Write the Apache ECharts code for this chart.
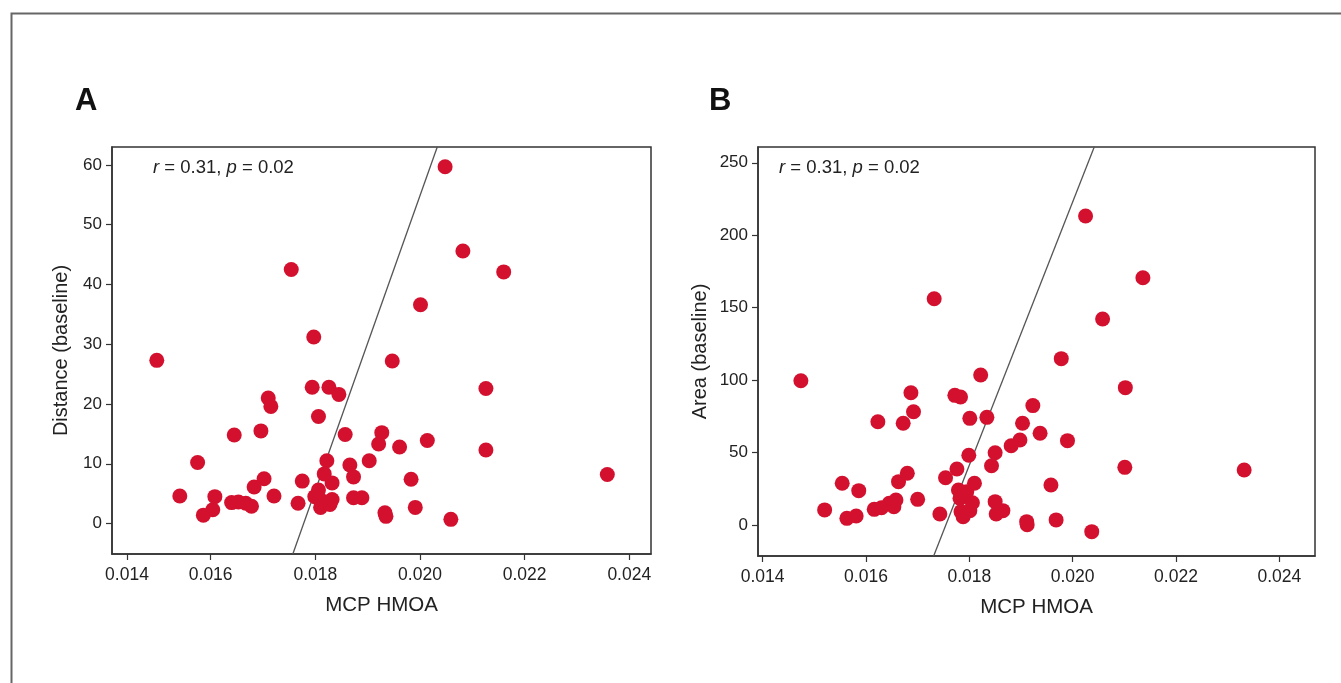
<!DOCTYPE html>
<html>
<head>
<meta charset="utf-8">
<script src="https://cdn.jsdelivr.net/npm/echarts@6/dist/echarts.min.js"></script>
<style>
  html, body { margin: 0; padding: 0; background: #fff; }
  #chart { width: 1341px; height: 683px; }
</style>
</head>
<body>
<div id="chart"></div>
<script>
  // panel A: MCP HMOA vs distance
  var hmoaA = [0.01497, 0.01754, 0.01797, 0.01947, 0.01794, 0.01826, 0.01845, 0.01710, 0.01715, 0.01806,
    0.01696, 0.01645, 0.01857, 0.01927, 0.01921, 0.01575, 0.01822, 0.01866, 0.01903, 0.01817,
    0.01873, 0.01832, 0.01775, 0.01702, 0.01683, 0.01541, 0.01608, 0.01604, 0.01586, 0.01640,
    0.01653, 0.01667, 0.01678, 0.01721, 0.01767, 0.01806, 0.01799, 0.01810, 0.01828, 0.01832,
    0.01873, 0.01889, 0.01933, 0.01935, 0.01811, 0.02048, 0.02082, 0.02160, 0.02001, 0.02126,
    0.01961, 0.02014, 0.02126, 0.02358, 0.01983, 0.01991, 0.02059];
  var distance = [27.3, 42.5, 31.2, 27.2, 22.8, 22.8, 21.6, 21.0, 19.6, 17.9,
    15.5, 14.8, 14.9, 15.2, 13.3, 10.2, 10.5, 9.8, 10.5, 8.3,
    7.8, 6.8, 7.1, 7.5, 6.1, 4.6, 4.5, 2.3, 1.4, 3.5,
    3.6, 3.4, 2.9, 4.6, 3.4, 5.6, 4.5, 2.7, 3.2, 4.0,
    4.3, 4.3, 1.8, 1.2, 3.9, 59.7, 45.6, 42.1, 36.6, 22.6,
    12.8, 13.9, 12.3, 8.2, 7.4, 2.7, 0.7];

  // panel B: MCP HMOA vs area
  var hmoaB = [0.01474, 0.01732, 0.01822, 0.01687, 0.01772, 0.01783, 0.01692, 0.01623, 0.01672, 0.01801,
    0.01834, 0.01799, 0.01850, 0.01843, 0.01776, 0.01754, 0.01680, 0.01663, 0.01554, 0.01586,
    0.01520, 0.01563, 0.01581, 0.01616, 0.01630, 0.01645, 0.01658, 0.01654, 0.01700, 0.01743,
    0.01782, 0.01795, 0.01810, 0.01784, 0.01788, 0.01806, 0.01801, 0.01850, 0.01852, 0.01865,
    0.01779, 0.01881, 0.02025, 0.02136, 0.02058, 0.01978, 0.02102, 0.01923, 0.01903, 0.01937,
    0.01898, 0.01990, 0.02101, 0.02332, 0.01958, 0.01911, 0.01912, 0.01968, 0.02037];
  var area = [99.6, 156.2, 103.5, 91.3, 89.5, 88.3, 78.2, 71.3, 70.2, 73.6,
    74.3, 48.1, 49.9, 40.9, 38.6, 32.6, 35.7, 29.9, 28.8, 23.7,
    10.4, 4.6, 6.2, 10.8, 11.9, 15.0, 17.3, 12.6, 17.7, 7.6,
    18.4, 23.0, 28.8, 9.2, 5.7, 15.4, 9.9, 16.1, 7.6, 9.9,
    24.2, 54.7, 213.3, 170.7, 142.2, 114.8, 94.8, 82.4, 70.2, 63.3,
    58.7, 58.2, 39.8, 38.0, 27.6, 2.3, 0.2, 3.5, -4.6];

  // fitted lines, as two end points (hmoa, value)
  var fitA = [[0.01757, -5.1], [0.02033, 63]];
  var fitB = [[0.01731, -21.4], [0.02042, 261]];

  // tick labels
  var xTicksA = [0.0144, 0.016, 0.018, 0.020, 0.022, 0.024]; // first tick sits off-scale in the original
  var xTicksB = [0.014, 0.016, 0.018, 0.020, 0.022, 0.024];
  var yTicksA = [0, 10, 20, 30, 40, 50, 60];
  var yTicksB = [0, 50, 100, 150, 200, 250];

  function zip(xs, ys) {
    return xs.map(function (x, i) { return [x, ys[i]]; });
  }

  var font = '"Liberation Sans", Arial, sans-serif';
  var ink = '#222';
  var dotColor = '#d3112f';

  function xAxis(gridIndex, min, max, ticks) {
    return {
      type: 'value', gridIndex: gridIndex, min: min, max: max, position: 'bottom',
      name: 'MCP HMOA', nameLocation: 'middle', nameGap: 41,
      nameTextStyle: { fontFamily: font, fontSize: 20.5, color: ink },
      axisLine: { show: true, onZero: false, lineStyle: { color: '#333', width: 1.5 } },
      axisTick: { show: true, inside: false, length: 6, customValues: ticks, lineStyle: { color: '#333', width: 1.2 } },
      axisLabel: {
        customValues: ticks, margin: 12, fontFamily: font, fontSize: 17.5, color: ink,
        formatter: function (v) { return v.toFixed(3); }
      },
      splitLine: { show: false }
    };
  }

  function yAxis(gridIndex, min, max, ticks, name, gap) {
    return {
      type: 'value', gridIndex: gridIndex, min: min, max: max, position: 'left',
      name: name, nameLocation: 'middle', nameGap: gap,
      nameTextStyle: { fontFamily: font, fontSize: 20, color: ink },
      axisLine: { show: true, onZero: false, lineStyle: { color: '#333', width: 1.5 } },
      axisTick: { show: true, inside: false, length: 6, customValues: ticks, lineStyle: { color: '#333', width: 1.2 } },
      axisLabel: { customValues: ticks, margin: 10, fontFamily: font, fontSize: 17, color: ink },
      splitLine: { show: false }
    };
  }

  function fitSeries(idx, pts) {
    return {
      type: 'line', xAxisIndex: idx, yAxisIndex: idx, data: pts,
      symbol: 'none', silent: true, z: 1,
      lineStyle: { color: '#555', width: 1.3 }
    };
  }

  function dots(idx, pts) {
    return {
      type: 'scatter', xAxisIndex: idx, yAxisIndex: idx, data: pts,
      symbolSize: 15, z: 2,
      itemStyle: { color: dotColor, opacity: 1 }
    };
  }

  function stat(left) {
    return {
      type: 'text', left: left, top: 158,
      style: {
        text: '{i|r} = 0.31, {i|p} = 0.02',
        fontFamily: font, fontSize: 18.5, fill: ink,
        rich: { i: { fontStyle: 'italic', fontFamily: font, fontSize: 18.5 } }
      }
    };
  }

  var chart = echarts.init(document.getElementById('chart'));
  chart.setOption({
    animation: false,
    backgroundColor: '#fff',
    grid: [
      { left: 112, top: 147, width: 539, height: 407, show: true, borderColor: '#333', borderWidth: 1.5, backgroundColor: 'transparent' },
      { left: 758, top: 147, width: 557, height: 409, show: true, borderColor: '#333', borderWidth: 1.5, backgroundColor: 'transparent' }
    ],
    xAxis: [
      xAxis(0, 0.014114, 0.024415, xTicksA),
      xAxis(1, 0.013910, 0.024691, xTicksB)
    ],
    yAxis: [
      yAxis(0, -5.1, 63.0, yTicksA, 'Distance (baseline)', 41),
      yAxis(1, -21.4, 260.9, yTicksB, 'Area (baseline)', 48)
    ],
    series: [
      fitSeries(0, fitA),
      dots(0, zip(hmoaA, distance)),
      fitSeries(1, fitB),
      dots(1, zip(hmoaB, area))
    ],
    graphic: [
      { type: 'rect', left: 9, top: 11, shape: { width: 1400, height: 700 }, style: { fill: 'none', stroke: '#666', lineWidth: 2 }, silent: true },
      { type: 'text', left: 75, top: 86, style: { text: 'A', fontFamily: font, fontSize: 31, fontWeight: 'bold', fill: '#111' } },
      { type: 'text', left: 709, top: 86, style: { text: 'B', fontFamily: font, fontSize: 31, fontWeight: 'bold', fill: '#111' } },
      stat(153),
      stat(779)
    ]
  });
</script>
</body>
</html>
